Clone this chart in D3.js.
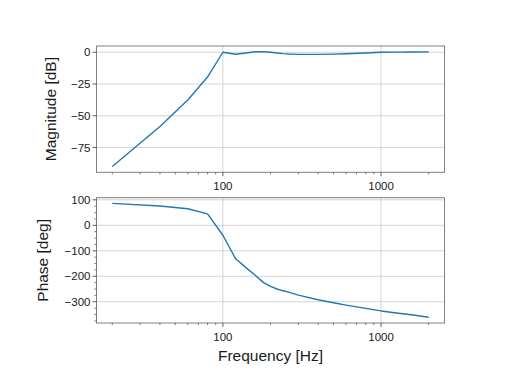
<!DOCTYPE html>
<html>
<head>
<meta charset="utf-8">
<script src="https://cdn.jsdelivr.net/npm/d3@7"></script>
<style>
  body { margin: 0; background: #fff; }
  svg text { font-family: "Liberation Sans", Arial, sans-serif; fill: #1a1a1a; }
</style>
</head>
<body>
<div class="chart"></div>
<script>
var freqs = [20, 40, 60, 80, 100, 120, 140, 160, 180, 200, 220, 240, 260, 300, 400, 500, 600, 800, 1000, 1250, 1600, 2000];
var magDb = [-90, -58.5, -37.6, -19.5, 0, -1.6, -0.6, 0.4, 0.4, 0, -0.6, -1.1, -1.4, -1.7, -1.7, -1.5, -1.2, -0.6, 0, 0.1, 0.2, 0.3];
var phaseDeg = [86, 76, 65, 45, -39, -130, -166, -196, -224, -240, -250, -257, -262, -274, -292, -304, -313, -326, -336, -344, -352, -361];

var magTicks = [0, -25, -50, -75];
var phaseTicks = [100, 0, -100, -200, -300];
var freqTicks = [100, 1000];
var freqMinor = [20, 30, 40, 50, 60, 70, 80, 90, 200, 300, 400, 500, 600, 700, 800, 900, 2000];

var w = 512, h = 384,
    left = 96.5, right = 444.5;

var svg = d3.select(".chart").append("svg")
    .attr("width", w)
    .attr("height", h);

var lo = Math.log10(d3.min(freqs)), hi = Math.log10(d3.max(freqs)),
    pad = (hi - lo) * 0.05;
var x = d3.scaleLog()
    .domain([Math.pow(10, lo - pad), Math.pow(10, hi + pad)])
    .range([left, right]);

function fmt(v) { return v < 0 ? "\u2212" + Math.abs(v) : String(v); }

function panel(top, bottom, vals, ticks, minorStep, label, labelX) {
  var mn = d3.min(vals), mx = d3.max(vals), m = (mx - mn) * 0.05;
  var y = d3.scaleLinear().domain([mn - m, mx + m]).range([bottom, top]);
  var g = svg.append("g");

  // grid
  g.selectAll(".gy").data(ticks).enter().append("line")
    .attr("x1", left).attr("x2", right)
    .attr("y1", d => y(d)).attr("y2", d => y(d))
    .attr("stroke", "#c8c8c8").attr("stroke-width", 0.8);
  g.selectAll(".gx").data(freqTicks).enter().append("line")
    .attr("x1", d => x(d)).attr("x2", d => x(d))
    .attr("y1", top).attr("y2", bottom)
    .attr("stroke", "#c8c8c8").attr("stroke-width", 0.8);

  // curve
  var line = d3.line().x((d, i) => x(freqs[i])).y(d => y(d));
  g.append("path").datum(vals)
    .attr("d", line)
    .attr("fill", "none")
    .attr("stroke", "#1f77b4")
    .attr("stroke-width", 1.4)
    .attr("stroke-linejoin", "round");

  // frame
  g.append("rect")
    .attr("x", left).attr("y", top)
    .attr("width", right - left).attr("height", bottom - top)
    .attr("fill", "none").attr("stroke", "#808080").attr("stroke-width", 1);

  // y ticks
  g.selectAll(".ty").data(ticks).enter().append("line")
    .attr("x1", left - 3.9).attr("x2", left)
    .attr("y1", d => y(d)).attr("y2", d => y(d))
    .attr("stroke", "#333").attr("stroke-width", 0.8);
  g.selectAll(".ly").data(ticks).enter().append("text")
    .attr("x", left - 6).attr("y", d => y(d) + 4)
    .attr("text-anchor", "end").attr("font-size", 11.5)
    .text(fmt);
  if (minorStep) {
    var yd = y.domain(), minors = [];
    for (var v = Math.ceil(yd[0] / minorStep) * minorStep; v <= yd[1]; v += minorStep) {
      if (ticks.indexOf(v) < 0) minors.push(v);
    }
    g.selectAll(".my").data(minors).enter().append("line")
      .attr("x1", left - 2.2).attr("x2", left)
      .attr("y1", d => y(d)).attr("y2", d => y(d))
      .attr("stroke", "#333").attr("stroke-width", 0.6);
  }

  // x ticks
  g.selectAll(".tx").data(freqTicks).enter().append("line")
    .attr("x1", d => x(d)).attr("x2", d => x(d))
    .attr("y1", bottom).attr("y2", bottom + 3.9)
    .attr("stroke", "#333").attr("stroke-width", 0.8);
  g.selectAll(".mx").data(freqMinor).enter().append("line")
    .attr("x1", d => x(d)).attr("x2", d => x(d))
    .attr("y1", bottom).attr("y2", bottom + 2.2)
    .attr("stroke", "#333").attr("stroke-width", 0.6);
  g.selectAll(".lx").data(freqTicks).enter().append("text")
    .attr("x", d => x(d)).attr("y", bottom + 17.5)
    .attr("text-anchor", "middle").attr("font-size", 11.5)
    .text(d => d);

  g.append("text")
    .attr("transform", "translate(" + labelX + "," + ((top + bottom) / 2) + ") rotate(-90)")
    .attr("text-anchor", "middle").attr("font-size", 15.5)
    .text(label);
}

panel(46, 172.3, magDb, magTicks, 0, "Magnitude [dB]", 56, false);
panel(197.7, 323, phaseDeg, phaseTicks, 25, "Phase [deg]", 47.5, true);

svg.append("text")
  .attr("x", (left + right) / 2).attr("y", 361)
  .attr("text-anchor", "middle").attr("font-size", 15.5)
  .text("Frequency [Hz]");
</script>
</body>
</html>
